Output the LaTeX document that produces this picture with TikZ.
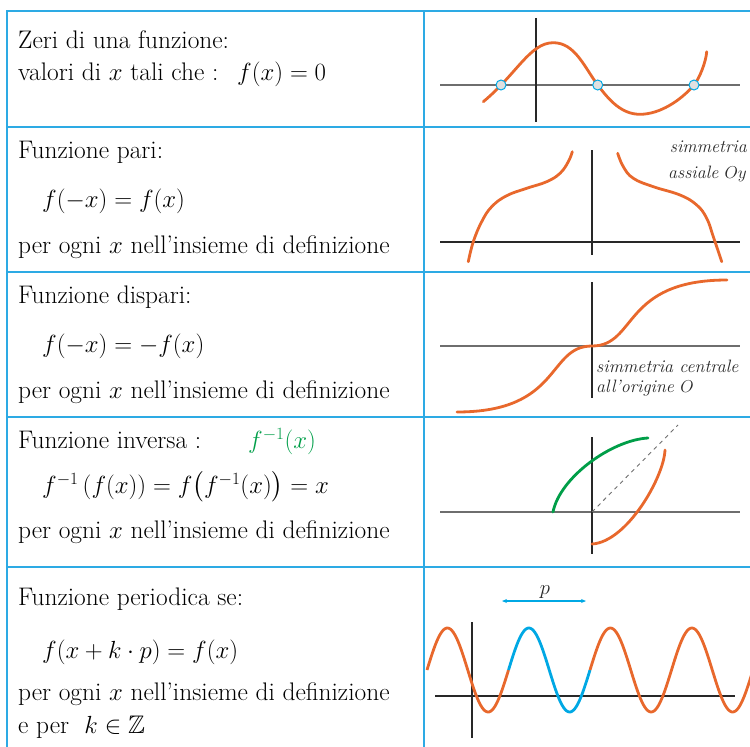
\documentclass[tikz,border=0pt]{standalone}
\usepackage{amsmath,amssymb}
\usetikzlibrary{arrows.meta}
\definecolor{tblue}{RGB}{45,170,228}
\definecolor{orng}{RGB}{232,104,44}
\definecolor{sblue}{RGB}{0,168,228}
\definecolor{grn}{RGB}{0,158,72}
\definecolor{axgray}{RGB}{110,110,110}
\definecolor{axdark}{RGB}{40,40,40}
\begin{document}
\begin{tikzpicture}[x=1bp,y=-1bp,
  tline/.style={draw=tblue,line width=1.8bp},
  axisg/.style={draw=axgray,line width=1.3bp},
  axisd/.style={draw=axdark,line width=1.1bp},
  curve/.style={draw=orng,line width=2.8bp,line cap=round},
  txt/.style={anchor=base west,inner sep=0pt,font=\fontsize{25.5}{30}\selectfont},
  lab/.style={inner sep=0pt,font=\fontsize{18}{21}\selectfont\itshape,text=axdark},
  zero/.style={circle,draw=sblue,fill=black!12,line width=1bp,minimum size=10bp,inner sep=0pt}]
\useasboundingbox (0,0) rectangle (750,747);
% table
\draw[tline] (7,747) -- (7,11) -- (750,11);
\draw[tline] (424,11) -- (424,747);
\foreach \yy in {127,272,417,567} \draw[tline] (7,\yy) -- (750,\yy);

% row 1
\node[txt] (r1a) at (18,49) {Zeri di una funzione:};
\node[txt] (r1b) at (18,80) {valori di $x$ tali che :};
\node[txt] (r1c) at (237,80) {$f(x)=0$};
\draw[axisg] (440,85) -- (740,85);
\draw[axisd] (536,18) -- (536,122);
\draw[curve] (483.3,101.7) .. controls (516.7,74) and (530,42.7) .. (553.3,42.7)
  .. controls (575,42.7) and (584.5,67.4) .. (597.7,85)
  .. controls (609.7,101) and (622,114.3) .. (640,114.3)
  .. controls (660,114.3) and (681,100.2) .. (694,85)
  .. controls (699.2,78.9) and (706,62) .. (706.7,51.7);
\node[zero] (z1) at (501,85) {};
\node[zero] (z2) at (597.7,85) {};
\node[zero] (z3) at (694,85) {};

% row 2
\node[txt] (r2a) at (18,158) {Funzione pari:};
\node[txt] (r2b) at (42,207) {$f(-x)=f(x)$};
\node[txt] (r2c) at (18,253) {per ogni $x$ nell'insieme di definizione};
\draw[axisd] (440,242) -- (740,242);
\draw[axisd] (592,150) -- (592,255);
\draw[curve] plot[smooth,tension=0.7] coordinates {(468.3,261.7)(473.3,241.7)(481.7,221.7)(491.7,206.7)(506.7,195.7)(526.7,188.3)(546.7,181.7)(560,173.3)(568.3,161.7)(572.3,151.7)};
\draw[curve] plot[smooth,tension=0.7] coordinates {(617.7,153.3)(623.3,166.7)(633.3,178.3)(653.3,186.7)(680,195)(696.7,205)(706.7,218.3)(713.3,236.7)(721.7,261.7)};
\node[lab,anchor=base east] (s2a) at (747,152) {simmetria};
\node[lab,anchor=base east] (s2b) at (747,178) {assiale $Oy$};

% row 3
\node[txt] (r3a) at (18,303) {Funzione dispari:};
\node[txt] (r3b) at (42,352) {$f(-x)=-f(x)$};
\node[txt] (r3c) at (18,398) {per ogni $x$ nell'insieme di definizione};
\draw[axisg] (440,346) -- (740,346);
\draw[axisd] (592,282) -- (592,398);
\begin{scope}[shift={(592,346)},y=1bp]
\draw[curve] (-135,-66) .. controls (-30,-66) and (-45,0) .. (0,0)
  .. controls (45,0) and (30,66) .. (135,66);
\end{scope}
\node[lab,anchor=base west] (s3a) at (596,372) {simmetria centrale};
\node[lab,anchor=base west] (s3b) at (596,392) {all'origine $O$};

% row 4
\node[txt] (r4a) at (18,448) {Funzione inversa :};
\node[txt,text=grn] (r4g) at (248,448) {$f^{-1}(x)$};
\node[txt] (r4b) at (42,493) {$f^{-1}\left(f(x)\right)=f\bigl(f^{-1}(x)\bigr)=x$};
\node[txt] (r4c) at (18,538) {per ogni $x$ nell'insieme di definizione};
\draw[axisg] (440,512) -- (740,512);
\draw[axisd] (592,437) -- (592,554);
\coordinate (o4) at (592,512);
\coordinate (d4) at (678,425);
\draw[axisg,line width=0.9bp,dash pattern=on 4bp off 4bp] (o4) -- (d4);
\begin{scope}[shift={(592,512)},y=1bp]
\draw[curve,draw=grn] (-39,0) .. controls (-32,35) and (20,72) .. (56,74);
\draw[curve] (0,-32) .. controls (35,-30) and (72,35) .. (73,62);
\end{scope}

% row 5
\node[txt] (r5a) at (18,605) {Funzione periodica se:};
\node[txt] (r5b) at (42,658) {$f(x+k\cdot p)=f(x)$};
\node[txt] (r5c) at (18,700) {per ogni $x$ nell'insieme di definizione};
\node[txt] (r5d) at (18,733) {e per\ \ $k\in\mathbb{Z}$};
\draw[axisd] (435,696) -- (735,696);
\draw[axisd] (472,622) -- (472,738);
\draw[curve,line cap=butt] plot[domain=0:360,samples=60,variable=\t] ({427+0.226389*\t},{670-42*sin(\t)});
\draw[curve,draw=sblue,line cap=butt] plot[domain=360:720,samples=60,variable=\t] ({427+0.226389*\t},{670-42*sin(\t)});
\draw[curve,line cap=butt] plot[domain=720:1436,samples=120,variable=\t] ({427+0.226389*\t},{670-42*sin(\t)});
\coordinate (pa) at (502,601);
\coordinate (pb) at (586,601);
\draw[draw=sblue,line width=1.2bp,{Stealth[length=5bp,width=4bp]}-{Stealth[length=5bp,width=4bp]}] (pa) -- (pb);
\node[lab,font=\fontsize{22}{26}\selectfont,anchor=base] (plab) at (545,594) {$p$};
\end{tikzpicture}
\end{document}
